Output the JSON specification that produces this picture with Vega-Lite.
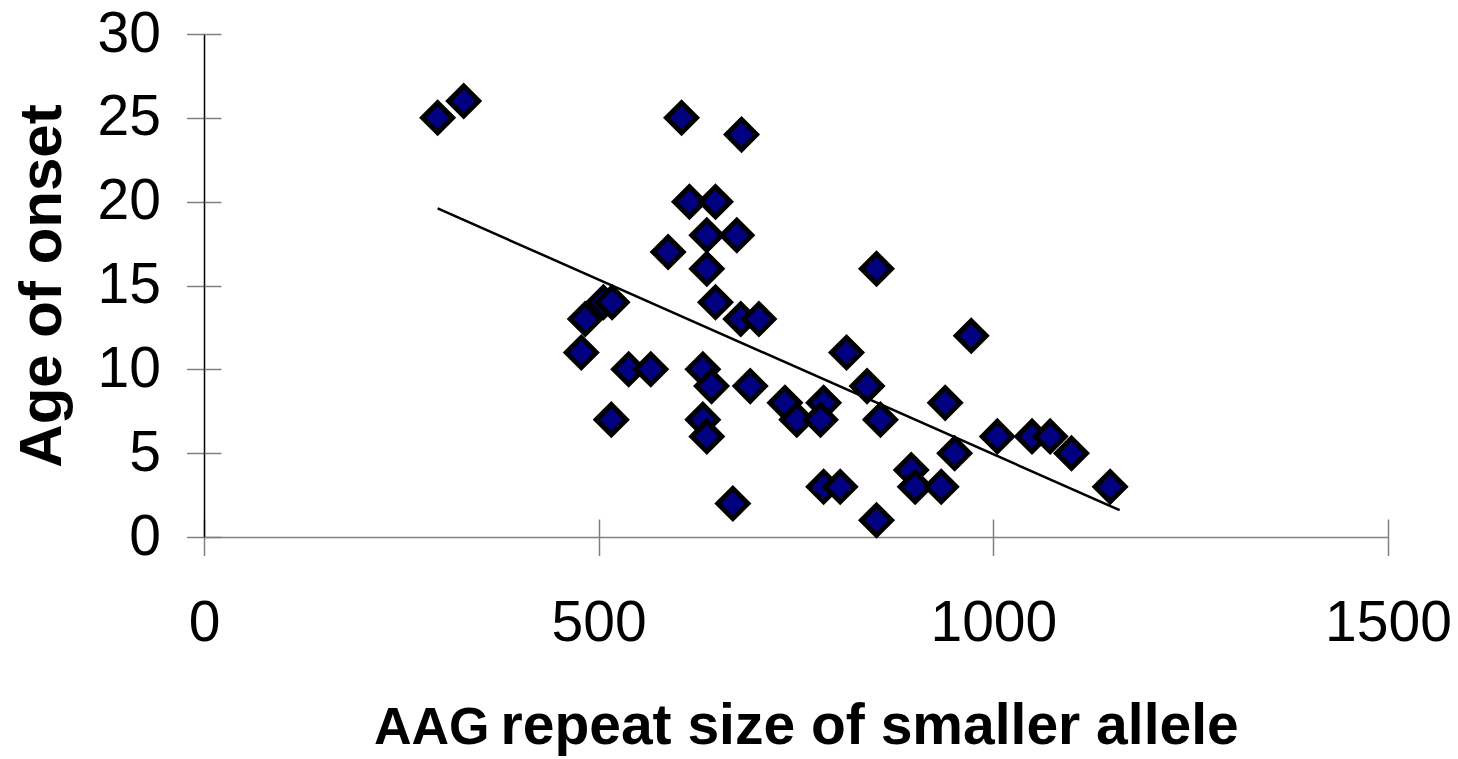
{
  "$schema": "https://vega.github.io/schema/vega-lite/v6.json",
  "width": 1184,
  "height": 503,
  "autosize": "none",
  "padding": {"left": 204, "top": 34, "right": 70, "bottom": 222},
  "background": "white",
  "config": {"view": {"stroke": null}, "font": "Liberation Sans"},
  "datasets": {
    "patients": [
      {"repeat": 296, "onset": 25}, {"repeat": 329, "onset": 26}, {"repeat": 605, "onset": 25}, {"repeat": 681, "onset": 24},
      {"repeat": 615, "onset": 20}, {"repeat": 648, "onset": 20}, {"repeat": 637, "onset": 18}, {"repeat": 675, "onset": 18},
      {"repeat": 588, "onset": 17}, {"repeat": 637, "onset": 16}, {"repeat": 648, "onset": 14}, {"repeat": 680, "onset": 13},
      {"repeat": 703, "onset": 13}, {"repeat": 483, "onset": 13}, {"repeat": 506, "onset": 14}, {"repeat": 517, "onset": 14},
      {"repeat": 478, "onset": 11}, {"repeat": 538, "onset": 10}, {"repeat": 566, "onset": 10}, {"repeat": 632, "onset": 10},
      {"repeat": 643, "onset": 9}, {"repeat": 692, "onset": 9}, {"repeat": 516, "onset": 7}, {"repeat": 632, "onset": 7},
      {"repeat": 637, "onset": 6}, {"repeat": 670, "onset": 2}, {"repeat": 736, "onset": 8}, {"repeat": 751, "onset": 7},
      {"repeat": 785, "onset": 8}, {"repeat": 781, "onset": 7}, {"repeat": 785, "onset": 3}, {"repeat": 806, "onset": 3},
      {"repeat": 814, "onset": 11}, {"repeat": 852, "onset": 16}, {"repeat": 972, "onset": 12}, {"repeat": 840, "onset": 9},
      {"repeat": 857, "onset": 7}, {"repeat": 939, "onset": 8}, {"repeat": 1005, "onset": 6}, {"repeat": 1049, "onset": 6},
      {"repeat": 1072, "onset": 6}, {"repeat": 1099, "onset": 5}, {"repeat": 951, "onset": 5}, {"repeat": 896, "onset": 4},
      {"repeat": 901, "onset": 3}, {"repeat": 934, "onset": 3}, {"repeat": 1148, "onset": 3}, {"repeat": 852, "onset": 1}
    ],
    "trend": [
      {"repeat": 296, "onset": 19.6},
      {"repeat": 1160, "onset": 1.6}
    ]
  },
  "layer": [
    {
      "data": {"name": "patients"},
      "mark": {"type": "point", "shape": "diamond", "filled": true, "fill": "#000080", "stroke": "black", "strokeWidth": 5, "strokeJoin": "miter", "size": 900, "opacity": 1},
      "encoding": {
        "x": {
          "field": "repeat", "type": "quantitative",
          "scale": {"domain": [0, 1500], "nice": false, "zero": true},
          "axis": {
            "orient": "bottom", "values": [0, 500, 1000, 1500], "format": "d", "grid": false,
            "domainColor": "#808080", "domainWidth": 1.5,
            "tickColor": "#808080", "tickWidth": 1.5, "tickSize": 18.5,
            "labelFont": "Liberation Sans", "labelFontSize": 57, "labelColor": "black",
            "labelPadding": 40, "labelFlush": false, "labelOverlap": false,
            "title": "AAG", "titleFont": "Liberation Sans", "titleFontSize": 52, "titleFontWeight": "bold",
            "titleColor": "black", "titleX": 285, "titleY": 206, "titleAlign": "right", "titleBaseline": "alphabetic"
          }
        },
        "y": {
          "field": "onset", "type": "quantitative",
          "scale": {"domain": [0, 30], "nice": false, "zero": true},
          "axis": {
            "orient": "left", "values": [0, 5, 10, 15, 20, 25, 30], "format": "d", "grid": false,
            "domainColor": "black", "domainWidth": 1.5,
            "tickColor": "#808080", "tickWidth": 1.5, "tickSize": 17.5,
            "labelFont": "Liberation Sans", "labelFontSize": 57, "labelColor": "black",
            "labelPadding": 26, "labelFlush": false, "labelOverlap": false,
            "title": "Age of onset", "titleFont": "Liberation Sans", "titleFontSize": 60, "titleFontWeight": "bold",
            "titleColor": "black", "titleX": -144, "titleY": 251.5, "titleAngle": 270,
            "titleAlign": "center", "titleBaseline": "alphabetic"
          }
        }
      }
    },
    {
      "data": {"name": "trend"},
      "mark": {"type": "line", "color": "black", "strokeWidth": 2.5},
      "encoding": {
        "x": {
          "field": "repeat", "type": "quantitative",
          "scale": {"domain": [0, 1500], "nice": false, "zero": true},
          "axis": {
            "orient": "bottom", "values": [0, 500, 1000, 1500], "grid": false,
            "domain": false, "labels": false,
            "tickColor": "#808080", "tickWidth": 1.5, "tickSize": -18,
            "title": "repeat size of smaller allele", "titleFont": "Liberation Sans", "titleFontSize": 57, "titleFontWeight": "bold",
            "titleColor": "black", "titleX": 296, "titleY": 206, "titleAlign": "left", "titleBaseline": "alphabetic"
          }
        },
        "y": {
          "field": "onset", "type": "quantitative",
          "scale": {"domain": [0, 30], "nice": false, "zero": true},
          "axis": {
            "orient": "left", "values": [0, 5, 10, 15, 20, 25, 30], "grid": false,
            "domain": false, "labels": false,
            "tickColor": "#808080", "tickWidth": 1.5, "tickSize": -17,
            "title": null
          }
        }
      }
    }
  ],
  "resolve": {"axis": {"x": "independent", "y": "independent"}}
}
